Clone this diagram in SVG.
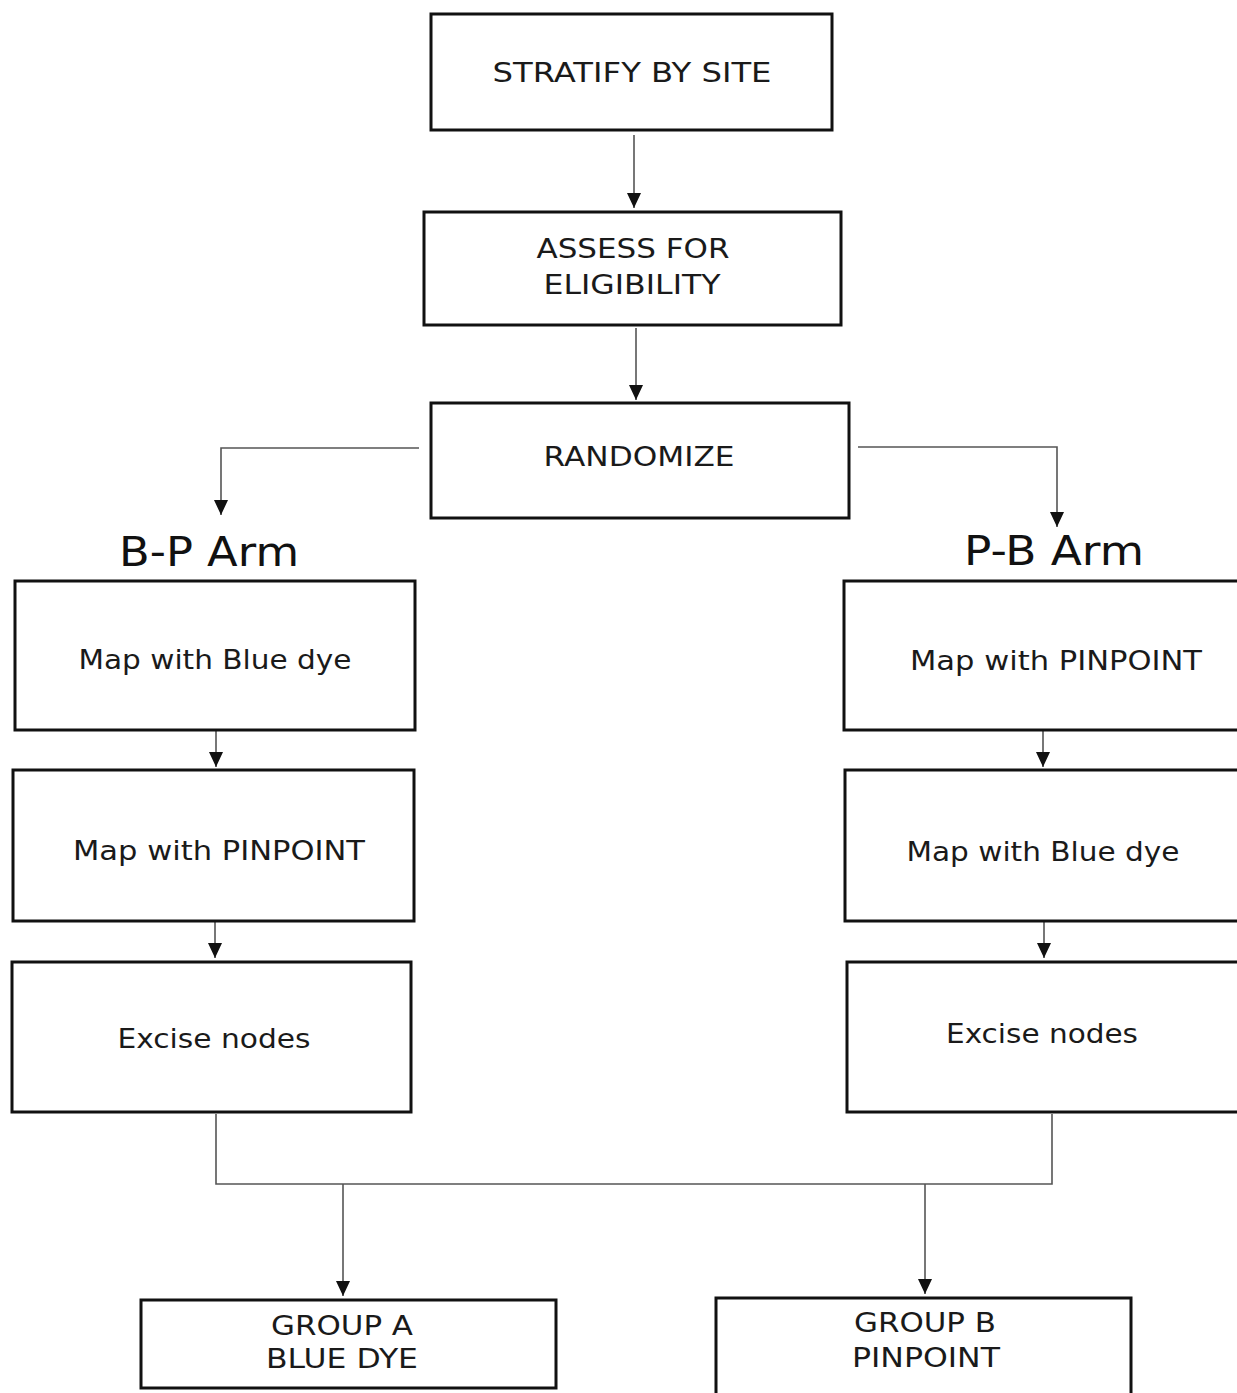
<svg xmlns="http://www.w3.org/2000/svg" width="1237" height="1393" viewBox="0 0 1237 1393">
<style>
.box{fill:#fff;stroke:#111;stroke-width:3}
.t{font-family:"DejaVu Sans",sans-serif;font-size:26px;fill:#1a1a1a;text-anchor:middle}
.arm{font-family:"DejaVu Sans",sans-serif;font-size:40px;fill:#111;text-anchor:middle}
.c{fill:none;stroke:#555;stroke-width:1.6}
.a{marker-end:url(#ah)}
</style>
<defs>
<marker id="ah" markerUnits="userSpaceOnUse" markerWidth="15" markerHeight="14" refX="15" refY="7" orient="auto" viewBox="0 0 15 14">
<path d="M0,0 L15,7 L0,14 Z" fill="#111"/>
</marker>
</defs>
<rect width="1237" height="1393" fill="#fff"/>
<g id="connectors">
<path class="c a" d="M634,135 V208"/>
<path class="c a" d="M636,328 V400"/>
<path class="c a" d="M419,448 H221 V515"/>
<path class="c a" d="M858,447 H1057 V527"/>
<path class="c a" d="M216,731 V767"/>
<path class="c a" d="M215,922 V958"/>
<path class="c a" d="M1043,731 V767"/>
<path class="c a" d="M1044,922 V958"/>
<path class="c" d="M216,1114 V1184 H1052 V1114"/>
<path class="c a" d="M343,1184 V1296"/>
<path class="c a" d="M925,1184 V1294"/>
</g>
<g id="stratify"><rect class="box" x="431" y="14" width="401" height="116"/><text class="t" x="632" y="82" textLength="279" lengthAdjust="spacingAndGlyphs">STRATIFY BY SITE</text></g>
<g id="assess"><rect class="box" x="424" y="212" width="417" height="113"/><text class="t" x="633" y="258" textLength="193" lengthAdjust="spacingAndGlyphs">ASSESS FOR</text><text class="t" x="632" y="294" textLength="177" lengthAdjust="spacingAndGlyphs">ELIGIBILITY</text></g>
<g id="randomize"><rect class="box" x="431" y="403" width="418" height="115"/><text class="t" x="639" y="466" textLength="191" lengthAdjust="spacingAndGlyphs">RANDOMIZE</text></g>
<g id="bp-arm"><text class="arm" x="209" y="566" textLength="180" lengthAdjust="spacingAndGlyphs">B-P Arm</text></g>
<g id="pb-arm"><text class="arm" x="1054" y="565" textLength="180" lengthAdjust="spacingAndGlyphs">P-B Arm</text></g>
<g id="l1"><rect class="box" x="15" y="581" width="400" height="149"/><text class="t" x="215" y="669" textLength="273" lengthAdjust="spacingAndGlyphs">Map with Blue dye</text></g>
<g id="l2"><rect class="box" x="13" y="770" width="401" height="151"/><text class="t" x="219" y="860" textLength="292" lengthAdjust="spacingAndGlyphs">Map with PINPOINT</text></g>
<g id="l3"><rect class="box" x="12" y="962" width="399" height="150"/><text class="t" x="214" y="1048" textLength="193" lengthAdjust="spacingAndGlyphs">Excise nodes</text></g>
<g id="r1"><rect class="box" x="844" y="581" width="400" height="149"/><text class="t" x="1056" y="670" textLength="292" lengthAdjust="spacingAndGlyphs">Map with PINPOINT</text></g>
<g id="r2"><rect class="box" x="845" y="770" width="400" height="151"/><text class="t" x="1043" y="861" textLength="273" lengthAdjust="spacingAndGlyphs">Map with Blue dye</text></g>
<g id="r3"><rect class="box" x="847" y="962" width="400" height="150"/><text class="t" x="1042" y="1043" textLength="192" lengthAdjust="spacingAndGlyphs">Excise nodes</text></g>
<g id="group-a"><rect class="box" x="141" y="1300" width="415" height="88"/><text class="t" x="342" y="1335" textLength="142" lengthAdjust="spacingAndGlyphs">GROUP A</text><text class="t" x="342" y="1368" textLength="152" lengthAdjust="spacingAndGlyphs">BLUE DYE</text></g>
<g id="group-b"><rect class="box" x="716" y="1298" width="415" height="110"/><text class="t" x="925" y="1332" textLength="142" lengthAdjust="spacingAndGlyphs">GROUP B</text><text class="t" x="926" y="1367" textLength="148" lengthAdjust="spacingAndGlyphs">PINPOINT</text></g>
</svg>
